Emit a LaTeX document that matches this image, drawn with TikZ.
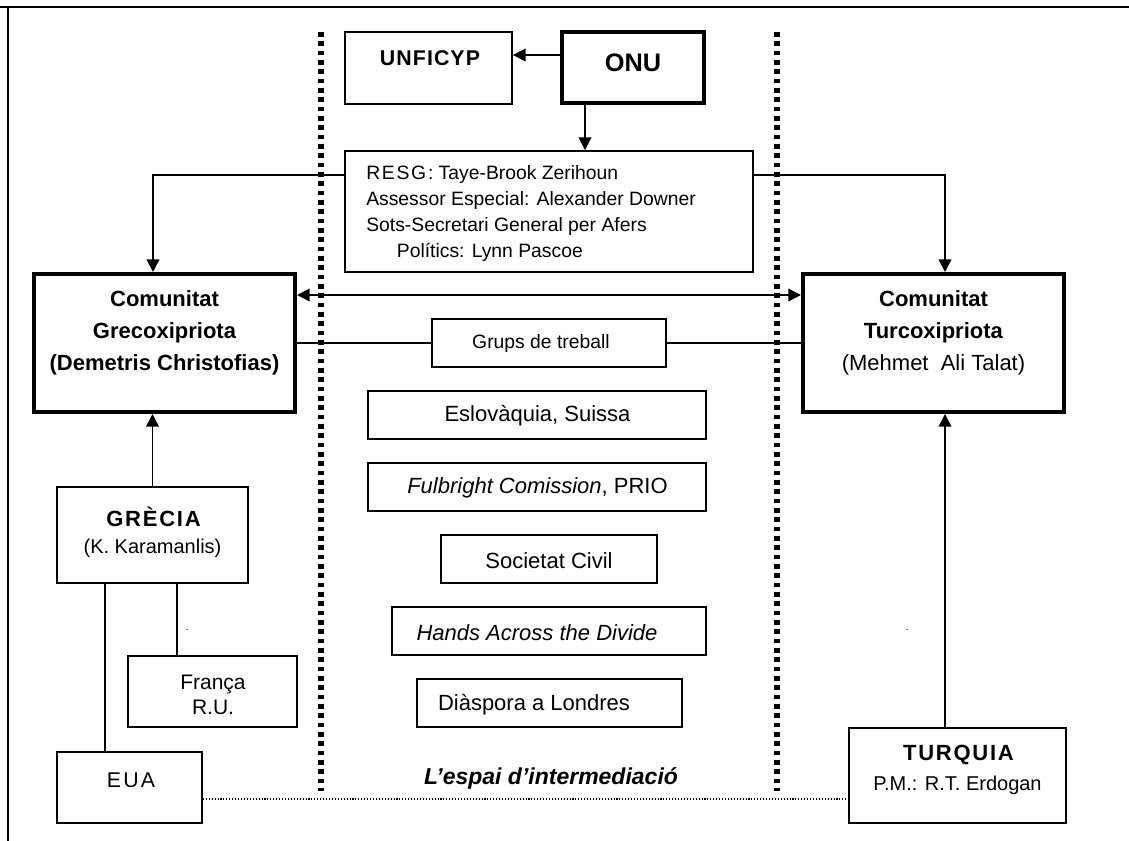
\documentclass[tikz,border=0pt]{standalone}
\usepackage{fontspec}
\setmainfont{Liberation Sans}
\usetikzlibrary{arrows.meta,calc}
\newcommand{\setfs}[2]{\fontsize{#1}{#2}\selectfont}

\begin{document}
\begin{tikzpicture}[x=0.75pt,y=-0.75pt,
  size/.style 2 args={minimum width=#1*0.75pt,minimum height=#2*0.75pt},
  box/.style={draw,line width=1.3pt,inner sep=0pt,rectangle},
  heavybox/.style={draw,line width=3pt,inner sep=0pt,rectangle},
  lbl/.style={inner sep=0pt,align=center},
  link/.style={line width=1.1pt},
  arr/.style={link,-{Triangle[length=9.5pt,width=9.5pt]}},
  arrboth/.style={link,{Triangle[length=9.5pt,width=9.5pt]}-{Triangle[length=9.5pt,width=9.5pt]}},
  divider/.style={line width=4pt,dash pattern=on 3.5pt off 3.5pt},
  faint/.style={line width=0.8pt,dash pattern=on 0.8pt off 1.4pt}
]
\useasboundingbox (0,0) rectangle (1129,841);
\fill[white] (0,0) rectangle (1129,841);

% page frame
\draw[line width=2.2pt] (0,7) -- (1129,7);
\draw[line width=1.1pt] (8,7) -- (8,841);

% borders of the mediation space
\draw[divider] (321,32) -- (321,791);
\draw[divider] (777,32) -- (777,791);

% United Nations
\node[box,size={167}{72}] (unficyp) at (428.5,68) {};
\node[lbl,font=\setfs{16}{19}\bfseries\addfontfeature{LetterSpace=5}] (unficypT) at (430,58) {UNFICYP};
\node[heavybox,size={142}{71}] (onu) at (633,67.5) {};
\node[lbl,font=\setfs{19}{22}\bfseries] (onuT) at (633,63) {ONU};

\node[box,size={408}{121}] (resg) at (549,211.5) {};
\node[lbl,align=left,anchor=west,font=\setfs{14.5}{19.3}] (resgT) at (366,213.5)
  {{\addfontfeature{LetterSpace=9}RESG:} Taye-Brook Zerihoun\\Assessor Especial: Alexander Downer\\Sots-Secretari General per Afers\\\hspace*{23pt}Polítics: Lynn Pascoe};

% the two communities
\node[heavybox,size={261}{138}] (greco) at (164.5,343) {};
\node[lbl,font=\setfs{16.5}{24}\bfseries] (grecoT) at (164.5,333)
  {Comunitat\\Grecoxipriota\\(Demetris Christofias)};
\node[heavybox,size={261}{138}] (turco) at (933.5,343) {};
\node[lbl,font=\setfs{16.5}{24}] (turcoT) at (933.5,333)
  {\textbf{Comunitat}\\\textbf{Turcoxipriota}\\(Mehmet\ \ Ali Talat)};

% mediation space
\node[box,size={234}{48}] (grups) at (549,343) {};
\node[lbl,font=\setfs{14.5}{17}] (grupsT) at (541,344) {Grups de treball};
\node[box,size={338}{48}] (esl) at (537,415) {};
\node[lbl,font=\setfs{16.5}{19}] (eslT) at (537.5,416) {Eslovàquia, Suissa};
\node[box,size={338}{48}] (fulb) at (537,487) {};
\node[lbl,font=\setfs{16.5}{19}] (fulbT) at (537.5,488) {\textit{Fulbright Comission}, PRIO};
\node[box,size={216}{48}] (soc) at (549,559) {};
\node[lbl,font=\setfs{16.5}{19}] (socT) at (549,561) {Societat Civil};
\node[box,size={314}{48}] (hands) at (549,631) {};
\node[lbl,font=\setfs{16.5}{19}\itshape] (handsT) at (537,633) {Hands Across the Divide};
\node[box,size={265}{48}] (diasp) at (549.5,703) {};
\node[lbl,font=\setfs{16.5}{19}] (diaspT) at (534,705) {Diàspora a Londres};
\node[lbl,font=\setfs{17.25}{20}\bfseries\itshape] (espai) at (551,778) {L’espai d’intermediació};

% Greek side
\node[box,size={191}{96}] (grecia) at (152.5,535) {};
\node[lbl,font=\setfs{16.5}{19}\bfseries\addfontfeature{LetterSpace=8}] (greciaT) at (153.5,517) {GRÈCIA};
\node[lbl,font=\setfs{15}{18}] (greciaS) at (152.5,548) {(K. Karamanlis)};
\node[box,size={169}{71}] (franca) at (212.5,691.5) {};
\node[lbl,font=\setfs{15.75}{18.75}] (francaT) at (213,694.5) {França\\R.U.};
\node[box,size={145}{71}] (eua) at (129.5,787.5) {};
\node[lbl,font=\setfs{16}{19}\addfontfeature{LetterSpace=10}] (euaT) at (131,780) {EUA};

% Turkish side
\node[box,size={217}{95}] (turquia) at (957.5,775.5) {};
\node[lbl,font=\setfs{16.5}{19}\bfseries\addfontfeature{LetterSpace=8}] (turquiaT) at (958.5,755) {TURQUIA};
\node[lbl,font=\setfs{15}{18}] (turquiaS) at (957.5,785) {P.M.: R.T. Erdogan};

% stray marks
\node[lbl,font=\setfs{8}{9}] (dotA) at (187,630) {.};
\node[lbl,font=\setfs{8}{9}] (dotB) at (907,630) {.};

% connectors
\coordinate (onuleft) at ($(onu.west)+(0,-12.5)$);
\draw[arr] (onuleft) -- (onuleft -| unficyp.east);
\coordinate (onuout) at ($(onu.south)+(-48,0)$);
\draw[arr] (onuout) -- (onuout |- resg.north);
\draw[arr] ($(resg.west)+(0,-36.5)$) -| ($(greco.north)+(-11.5,0)$);
\draw[arr] ($(resg.east)+(0,-36.5)$) -| ($(turco.north)+(11.5,0)$);
\draw[arrboth] ($(greco.east)+(0,-48)$) -- ($(turco.west)+(0,-48)$);
\draw[link] (greco.east) -- (grups.west);
\draw[link] (grups.east) -- (turco.west);
\draw[arr] (grecia.north) -- (grecia.north |- greco.south);
\coordinate (grfr) at ($(grecia.south)+(24.5,0)$);
\draw[link] (grfr) -- (grfr |- franca.north);
\coordinate (greu) at ($(grecia.south)+(-47.5,0)$);
\draw[link] (greu) -- (greu |- eua.north);
\coordinate (tqup) at ($(turquia.north)+(-12.5,0)$);
\draw[arr] (tqup) -- (tqup |- turco.south);
\coordinate (euaout) at ($(eua.east)+(0,11.5)$);
\draw[faint] (euaout) -- (euaout -| turquia.west);
\end{tikzpicture}
\end{document}
